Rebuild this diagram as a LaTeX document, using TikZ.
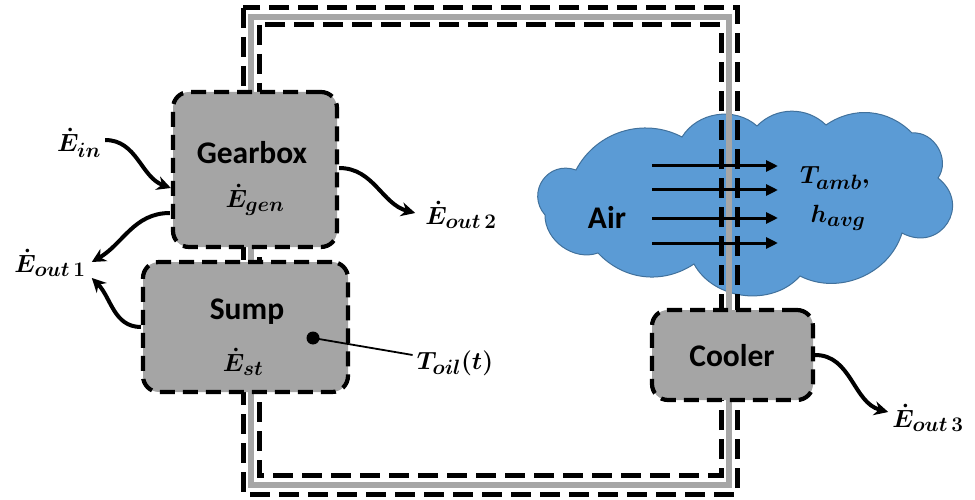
\documentclass[tikz,border=0pt]{standalone}
\usepackage{fontspec}
\setmainfont{Carlito}
\usepackage{amsmath}
\usetikzlibrary{arrows.meta,calc}
\definecolor{boxgray}{HTML}{A5A5A5}
\definecolor{pipegray}{HTML}{A6A6A6}
\definecolor{cloudfill}{HTML}{5B9BD5}
\definecolor{clouddraw}{HTML}{41719C}
\begin{document}
\begin{tikzpicture}[x=1pt,y=-1pt,
  box/.style={draw=black, line width=4.2pt, dash pattern=on 15pt off 8pt, fill=boxgray, rounded corners=16pt, inner sep=0pt},
  pipe/.style={line width=6pt, draw=pipegray},
  pipedash/.style={line width=5pt, draw=black, dash pattern=on 20pt off 9pt},
  flow/.style={line width=4pt, -{Stealth[length=14pt,width=14pt]}},
  airflow/.style={line width=3pt, -{Triangle[length=12pt,width=11pt]}},
  cloudstyle/.style={fill=cloudfill, draw=clouddraw, line width=1pt},
  lbl/.style={font=\fontsize{29}{31}\selectfont\boldmath, inner sep=0pt},
  txt/.style={font=\fontsize{31.5}{34}\selectfont\bfseries, inner sep=0pt}
]
\useasboundingbox (0,0) rectangle (975,500);
% cloud (drawn as a shape)
\coordinate (c1) at (545,215);
\coordinate (c2) at (576,170);
\coordinate (c3) at (682,137);
\coordinate (c4) at (757,126);
\coordinate (c5) at (826,125);
\coordinate (c6) at (912,133);
\coordinate (c7) at (938,178);
\coordinate (c8) at (902,233);
\coordinate (c9) at (800,276);
\coordinate (c10) at (694,264);
\coordinate (c11) at (598,253);
\draw[cloudstyle] (c1) to[bend left=75, looseness=1.4] (c2)
  to[bend left=45] (c3)
  to[bend left=50] (c4)
  to[bend left=45] (c5)
  to[bend left=40] (c6)
  to[bend left=65, looseness=1.1] (c7)
  to[bend left=85, looseness=1.7] (c8)
  to[bend left=50] (c9)
  to[bend left=55] (c10)
  to[bend left=40] (c11)
  to[bend left=55] cycle;
% pipe loop
\coordinate (p1) at (251,17);  \coordinate (p2) at (729,485);
\coordinate (o1) at (243,8);   \coordinate (o2) at (737,494);
\coordinate (i1) at (259,25);  \coordinate (i2) at (721,475);
\draw[pipe] (p1) rectangle (p2);
\draw[pipedash] (o1) rectangle (o2);
\draw[pipedash] (i1) rectangle (i2);
% boxes
\node[box, minimum width=164pt, minimum height=155pt] (gear) at (255,169.5) {};
\node[box, minimum width=205pt, minimum height=130pt] (sump) at (245.5,327) {};
\node[box, minimum width=161pt, minimum height=90pt] (cooler) at (732.5,355) {};
% box texts
\node[txt] (geartxt) at (252,153) {Gearbox};
\node[lbl] (egen) at (255,200) {$\dot{E}_{gen}$};
\node[txt] (sumptxt) at (247,312) {Sump};
\node[lbl] (est) at (243,362) {$\dot{E}_{st}$};
\node[txt] (coolertxt) at (732,356) {Cooler};
\node[txt] (airtxt) at (607,217) {Air};
% air arrows
\foreach \yy [count=\k] in {166,190,218,243}{
  \coordinate (as\k) at (652,\yy);
  \coordinate (ae\k) at (778,\yy);
  \draw[airflow] (as\k) -- (ae\k);
}
\node[lbl] (tamb) at (835,178) {$T_{amb},$};
\node[lbl] (havg) at (838,218) {$h_{avg}$};
% outside labels
\node[lbl] (ein) at (79,143) {$\dot{E}_{in}$};
\node[lbl] (eout2) at (461,215) {$\dot{E}_{out\,\mathbf{2}}$};
\node[lbl] (eout1) at (50,263) {$\dot{E}_{out\,\mathbf{1}}$};
\node[lbl] (eout3) at (928,418) {$\dot{E}_{out\,\mathbf{3}}$};
\node[lbl] (toil) at (455,363) {$T_{oil}(t)$};
% oil temperature probe
\coordinate (probe) at (313,338);
\fill (probe) circle (6.5pt);
\draw[line width=1.8pt] (probe) -- ($(toil.west)+(-4,-8)$);
% flows
\draw[flow] ($(ein.east)+(4,-3)$) to[out=0,in=160] ($(gear.west)+(0,18.5)$);
\draw[flow] ($(gear.east)+(0,-1.5)$) to[out=0,in=165] ($(eout2.west)+(-10,-2)$);
\draw[flow] ($(gear.west)+(-1,43.5)$) to[out=180,in=30] ($(eout1.east)+(6,-1)$);
\draw[flow] ($(sump.west)+(0,0)$) to[out=180,in=-45] ($(eout1.east)+(6,15)$);
\draw[flow] ($(cooler.east)+(0,0)$) to[out=0,in=165] ($(eout3.west)+(-4,-6)$);
\end{tikzpicture}
\end{document}
